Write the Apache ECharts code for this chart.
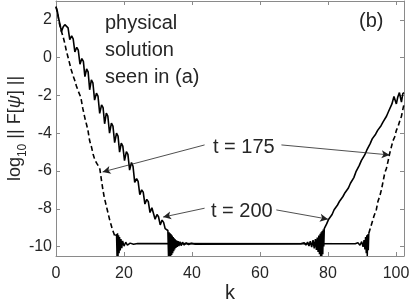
<!DOCTYPE html>
<html><head><meta charset="utf-8">
<script src="https://cdn.jsdelivr.net/npm/echarts@6/dist/echarts.min.js"></script>
<style>html,body{margin:0;padding:0;background:#fff}#c{width:409px;height:305px}</style>
</head><body><div id="c"></div>
<script>
// ---- data (k, log10 ||F[psi]||) ----
const xTicks = [0, 20, 40, 60, 80, 100];
const yTicks = [-10, -8, -6, -4, -2, 0, 2];

const t200 = [
 [0,2.7],[0.4,2.45],[0.8,2.05],[1.2,1.75],[1.6,1.38],[2.1,1.62],[2.6,1.75],[3.1,1.73],
 [3.55,1.58],[4.05,0.95],[4.6,1.15],[5.05,1.0],[5.55,0.3],[6.1,0.55],[6.55,0.4],[7.05,-0.35],
 [7.6,-0.05],[8.05,-0.2],[8.5,-1.0],[9.0,-0.6],[9.45,-0.75],[9.9,-1.7],[10.4,-1.18],
 [10.85,-1.33],[11.35,-2.25],[11.9,-1.88],[12.35,-2.03],[12.85,-2.95],[13.4,-2.5],
 [13.85,-2.65],[14.3,-3.5],[14.8,-2.94],[15.25,-3.1],[15.75,-4.0],[16.3,-3.47],
 [16.75,-3.62],[17.25,-4.5],[17.8,-4.0],[18.25,-4.15],[18.7,-5.0],[19.2,-4.53],
 [19.65,-4.68],[20.15,-5.45],[20.7,-4.97],[21.15,-5.12],[21.65,-5.95],[22.2,-5.55],
 [22.65,-5.75],[23.15,-6.6],[23.7,-6.4],[24.15,-6.55],[24.65,-7.25],[25.2,-7.0],
 [25.65,-7.12],[26.15,-7.75],[26.7,-7.5],[27.15,-7.62],[27.65,-8.2],[28.2,-7.95],
 [28.65,-8.05],[29.15,-8.55],[29.7,-8.3],[30.15,-8.42],[30.65,-8.85],[31.2,-8.6],
 [31.65,-8.72],[32.1,-9.05],[32.5,-8.95],[32.9,-9.15],
 [33.1,-10.5],[33.25,-9.25],[33.4,-10.5],[33.55,-9.3],[33.7,-10.5],[33.85,-9.35],
 [34.0,-10.45],[34.15,-9.42],[34.3,-10.35],[34.45,-9.5],[34.6,-10.25],[34.75,-9.56],
 [34.9,-10.15],[35.05,-9.62],[35.25,-10.07],[35.45,-9.67],[35.65,-10.02],[35.9,-9.71],
 [36.15,-9.98],[36.45,-9.74],[36.8,-9.95],[37.2,-9.77],[37.7,-9.92],[38.3,-9.8],
 [39.0,-9.9],[39.8,-9.82],[40.8,-9.87],[72,-9.85],
 [73,-9.8],[73.5,-9.92],[74.0,-9.76],[74.4,-9.97],[74.8,-9.72],[75.2,-10.03],
 [75.6,-9.66],[75.95,-10.1],[76.3,-9.6],[76.6,-10.18],[76.85,-9.52],[77.1,-10.28],
 [77.3,-9.42],[77.5,-10.4],[77.7,-9.32],[77.85,-10.5],[78.0,-9.25],[78.15,-10.5],
 [78.3,-9.18],[78.45,-10.4],[78.6,-9.1],[78.75,-10.0],[78.9,-9.05],[79.2,-8.95],
 [79.6,-8.8],[80.2,-8.55],[80.6,-8.65],[81.2,-8.3],[81.8,-8.05],[82.2,-8.15],
 [82.8,-7.8],[83.4,-7.6],[83.8,-7.7],[84.4,-7.35],[85.0,-7.15],[85.4,-7.25],
 [86.0,-6.9],[86.6,-6.65],[87.0,-6.75],[87.6,-6.35],[88.2,-6.05],[88.6,-6.15],
 [89.2,-5.7],[89.8,-5.45],[90.2,-5.55],[90.8,-5.15],[91.4,-4.9],[91.8,-5.0],
 [92.4,-4.55],[93.0,-4.3],[93.4,-4.4],[94.0,-4.05],[94.6,-3.85],[95.0,-3.95],
 [95.6,-3.6],[96.2,-3.4],[96.6,-3.5],[97.2,-3.1],[97.8,-2.85],[98.2,-2.95],
 [98.8,-2.45],[99.4,-2.05],[99.7,-2.0],[100.1,-2.45],[100.5,-2.1],[101.0,-1.85],
 [101.3,-1.95],[101.6,-2.35],[102.0,-1.9],[102.35,-1.85]
];

const t175Down = [
 [0,2.7],[0.5,2.3],[1.0,1.8],[1.5,1.45],[2.1,1.1],[2.6,0.75],[3.0,0.4],[3.5,0.05],
 [4.0,-0.3],[4.5,-0.65],[5.0,-0.95],[5.5,-1.2],[6.0,-1.5],[6.6,-1.8],[7.3,-2.1],
 [7.9,-2.7],[8.5,-3.2],[9.0,-3.55],[9.4,-3.85],[9.9,-4.4],[10.4,-4.7],[10.9,-5.1],
 [11.4,-5.4],[12.0,-5.6],[12.5,-5.75],[12.9,-5.9],[13.3,-6.4],[13.8,-7.0],[14.2,-7.4],
 [14.6,-7.7],[15.0,-8.0],[15.4,-8.3],[15.8,-8.6],[16.2,-8.85],[16.6,-9.1],[17.0,-9.3],
 [17.4,-9.5],[17.8,-9.35]
];

const t175Floor = [
 [17.8,-9.35],[17.95,-10.5],[18.1,-9.3],[18.25,-10.5],[18.4,-9.4],[18.55,-10.35],
 [18.7,-9.5],[18.9,-10.2],[19.1,-9.6],[19.35,-10.08],[19.6,-9.7],[20.0,-9.98],
 [20.5,-9.77],[21.0,-9.92],[21.8,-9.82],[22.8,-9.88],[24,-9.84],[88,-9.85],
 [88.8,-9.8],[89.4,-9.93],[89.9,-9.74],[90.3,-10.02],[90.6,-9.66],[90.85,-10.15],
 [91.05,-9.5],[91.25,-10.35],[91.4,-9.4],[91.55,-10.5],[91.7,-9.35],[91.85,-10.2],
 [92.0,-9.3]
];

const t175Up = [
 [92.0,-9.3],[92.5,-9.0],[93.0,-8.7],[93.5,-8.4],[94.2,-8.05],[94.7,-7.6],[95.2,-7.35],
 [95.7,-7.0],[96.2,-6.55],[96.7,-6.1],[97.2,-5.85],[97.7,-5.45],[98.1,-5.1],[98.6,-4.75],
 [99.1,-4.4],[99.6,-4.2],[100.1,-3.85],[100.6,-3.65],[101.1,-3.35],[101.6,-3.1],
 [102.0,-2.75],[102.35,-2.45]
];

// annotation arrows: [fromK, fromY, toK, toY]
const arrows = [
 [43.7, -4.62, 13.7, -6.05],
 [66.3, -4.62, 98.1, -5.15],
 [43.7, -7.97, 31.5, -8.44],
 [64.8, -8.06, 80.0, -8.55]
];

// ---- chart ----
const FONT = '"Liberation Sans", Arial, Helvetica, sans-serif';
const AX = '#8a8a8a';
const TXT = '#262626';
const XMAX = 102.35, YMIN = -10.5, YMAX = 3;
const fmt = list => v => list.some(t => Math.abs(t - v) < 1e-6) ? String(Math.round(v)) : '';

function xAx(pos, labels) {
  return {
    type: 'value', min: 0, max: XMAX, splitNumber: 5, position: pos,
    axisLine: { show: true, onZero: false, lineStyle: { color: AX, width: 1 } },
    axisTick: { show: true, inside: true, length: 4, lineStyle: { color: AX } },
    axisLabel: { show: labels, formatter: fmt(xTicks), fontSize: 16, color: TXT, fontFamily: FONT, margin: 10 },
    splitLine: { show: false },
    name: labels ? 'k' : '', nameLocation: 'middle', nameGap: 27, nameMoveOverlap: false,
    nameTextStyle: { fontSize: 20, color: TXT, fontFamily: FONT }
  };
}
function yAx(pos, labels) {
  return {
    type: 'value', min: YMIN, max: YMAX, splitNumber: 7, position: pos,
    axisLine: { show: true, onZero: false, lineStyle: { color: AX, width: 1 } },
    axisTick: { show: true, inside: true, length: 4, lineStyle: { color: AX } },
    axisLabel: { show: labels, formatter: fmt(yTicks), fontSize: 16, color: TXT, fontFamily: FONT, margin: 4 },
    splitLine: { show: false },
    name: labels ? '{a|log}{s|10}{a| || F[}{i|ψ}{a|] ||}' : '',
    nameLocation: 'middle', nameRotate: 90, nameGap: 27, nameMoveOverlap: false,
    nameTextStyle: {
      color: TXT, fontFamily: FONT,
      rich: {
        a: { fontSize: 18, color: TXT, fontFamily: FONT, lineHeight: 18, verticalAlign: 'middle' },
        i: { fontSize: 18, color: TXT, fontFamily: FONT, fontStyle: 'italic', lineHeight: 18, verticalAlign: 'middle' },
        s: { fontSize: 12, color: TXT, fontFamily: FONT, lineHeight: 28, verticalAlign: 'bottom' }
      }
    }
  };
}

const lineBase = { type: 'line', showSymbol: false, symbol: 'none', animation: false, silent: true, xAxisIndex: 0, yAxisIndex: 0, clip: true };

const chart = echarts.init(document.getElementById('c'), null, { renderer: 'canvas' });
chart.setOption({
  animation: false,
  backgroundColor: '#fff',
  grid: { left: 56, right: 5, top: 1, bottom: 49, containLabel: false, outerBoundsMode: 'none' },
  xAxis: [xAx('bottom', true), xAx('top', false)],
  yAxis: [yAx('left', true), yAx('right', false)],
  series: [
    Object.assign({}, lineBase, { name: 't175down', data: t175Down, lineStyle: { color: '#000', width: 1.6, type: [5, 3] } }),
    Object.assign({}, lineBase, { name: 't175floor', data: t175Floor, lineStyle: { color: '#000', width: 1.5 } }),
    Object.assign({}, lineBase, { name: 't175up', data: t175Up, lineStyle: { color: '#000', width: 1.6, type: [5, 3] } }),
    Object.assign({}, lineBase, {
      name: 't200', data: t200, lineStyle: { color: '#000', width: 1.6 },
      markLine: {
        silent: true, animation: false, symbol: ['none', 'arrow'], symbolSize: [6, 8],
        lineStyle: { color: '#222', width: 0.8, type: 'solid' },
        label: { show: false },
        data: arrows.map(a => [{ coord: [a[0], a[1]] }, { coord: [a[2], a[3]] }])
      }
    })
  ],
  graphic: [
    { type: 'text', left: 105, top: 10, style: { text: 'physical\nsolution\nseen in (a)', font: '20px ' + FONT, fill: TXT, lineHeight: 27 } },
    { type: 'text', left: 359, top: 11, style: { text: '(b)', font: '20px ' + FONT, fill: TXT } },
    { type: 'text', left: 213, top: 137, style: { text: 't = 175', font: '20px ' + FONT, fill: TXT } },
    { type: 'text', left: 211, top: 201, style: { text: 't = 200', font: '20px ' + FONT, fill: TXT } }
  ]
});
</script>
</body></html>
